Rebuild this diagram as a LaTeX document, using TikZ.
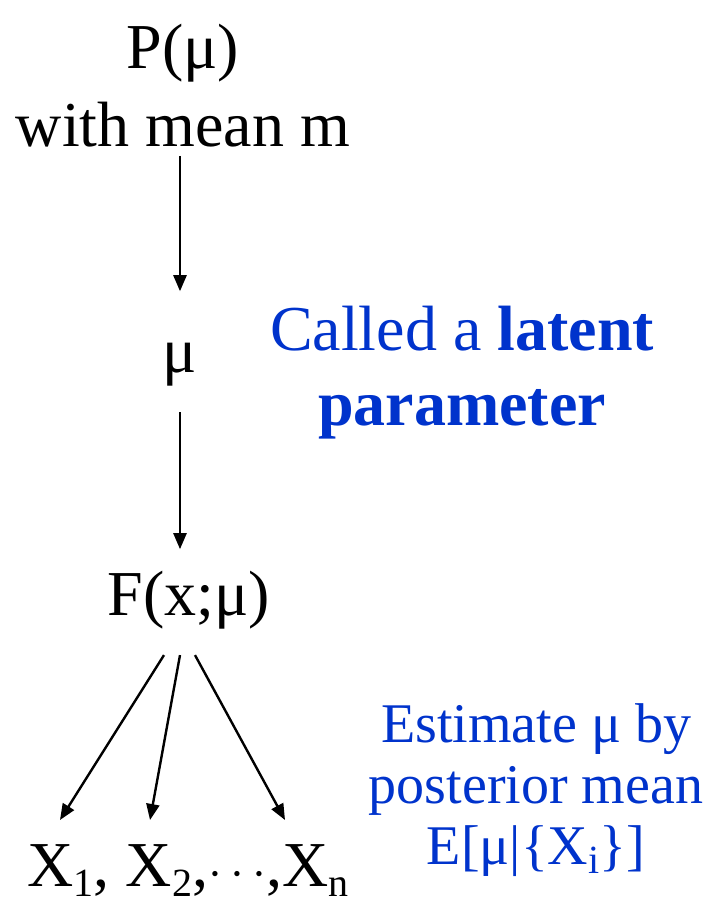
\documentclass[tikz,border=0pt]{standalone}
\usepackage{fontspec}
\setmainfont{Liberation Serif}
\usetikzlibrary{arrows.meta,positioning}
\definecolor{noteblue}{HTML}{0033CC}
\newcommand{\lowidx}[1]{\raisebox{-0.35ex}{\fontsize{20}{20}\selectfont #1}}

\begin{document}
\begin{tikzpicture}[x=0.5pt,y=-0.5pt,
  lbl/.style={font=\fontsize{32}{39}\selectfont, align=center, inner sep=0pt},
  note/.style={font=\fontsize{32}{37.5}\selectfont, align=center, inner sep=0pt, text=noteblue},
  smallnote/.style={font=\fontsize{28}{30.5}\selectfont, align=center, inner sep=0pt, text=noteblue},
  arr/.style={-{Triangle[length=8pt,width=6.5pt]}, line width=1.2pt}]
\useasboundingbox (0,0) rectangle (709,902);
% model chain
\node[lbl] (prior) at (183,86) {P(μ)\\with mean m};
\node[lbl, anchor=base] (mu) at (180,372) {μ};
\node[lbl, anchor=base] (F) at (189,615) {F(x;μ)};
\node[lbl, anchor=base] (X) at (188,886) {X\lowidx{1}, X\lowidx{2},$\cdots$,X\lowidx{n}};
\coordinate (t1) at (60,820);
\coordinate (t2) at (150,820);
\coordinate (tn) at (285,820);
% notes
\node[note] (latent) at (462,373) {Called a \textbf{latent}\\\textbf{parameter}};
\node[smallnote] (est) at (536,790) {Estimate μ by\\posterior mean\\E[μ|\{X\lowidx{i}\}]};
% arrows
\draw[arr, shorten <=4pt, shorten >=25.5pt] (prior.south -| mu) -- (mu);
\draw[arr, shorten <=13pt, shorten >=10.5pt] (mu) -- (mu |- F.north);
\draw[arr] ([xshift=-12.5pt,yshift=-13pt]F.south) -- (t1);
\draw[arr] ([xshift=-4.5pt,yshift=-13pt]F.south) -- (t2);
\draw[arr] ([xshift=3pt,yshift=-13pt]F.south) -- (tn);
\end{tikzpicture}
\end{document}
